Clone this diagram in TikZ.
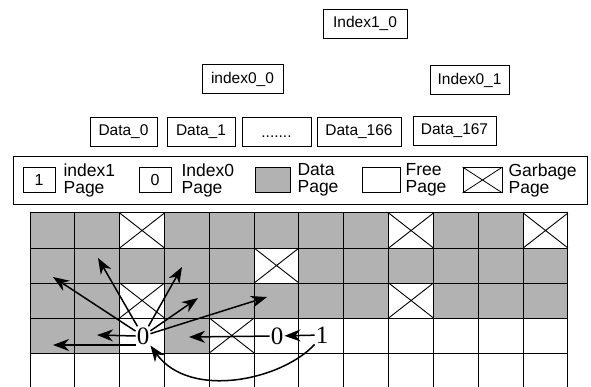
\documentclass[tikz,border=0pt]{standalone}
\usepackage{fontspec}
\setmainfont{Liberation Sans}
\newfontfamily\digitfont{Liberation Serif}
\usetikzlibrary{arrows.meta,positioning}
\definecolor{datagray}{gray}{0.70}

\begin{document}
\begin{tikzpicture}[x=1pt, y=-1pt,
    pagebox/.style={draw, line width=0.8pt, inner sep=0pt, minimum height=29pt,
        font=\fontsize{15.5}{15.5}\selectfont},
    swatch/.style={draw, line width=0.8pt, inner sep=0pt, minimum height=25pt,
        font=\fontsize{16}{16}\selectfont},
    legtext/.style={align=left, inner sep=0pt, anchor=west,
        font=\fontsize{17.5}{17}\selectfont},
    pagenum/.style={inner sep=1pt, font=\digitfont\fontsize{25}{25}\selectfont},
    ptr/.style={-{Stealth[length=16pt,width=12pt,inset=5pt]}, line width=1.5pt}]

    \useasboundingbox (0,0) rectangle (591,387);

    \def\cw{44.83}
    \def\rh{35}

    % --- arbol de indices ---
    \node[pagebox, minimum width=84pt] (i10) at (365,23.5) {Index1\_0};
    \node[pagebox, minimum width=81pt] (i00) at (242.5,79) {index0\_0};
    \node[pagebox, minimum width=79pt] (i01) at (469.5,80) {Index0\_1};

    \node[pagebox, minimum width=67pt] (d0)   at (123.5,132) {Data\_0};
    \node[pagebox, minimum width=68pt] (d1)   at (201,132)   {Data\_1};
    \node[pagebox, minimum width=69pt] (dots) at (276.5,132) {\vphantom{Data}.......};
    \node[pagebox, minimum width=84pt] (d166) at (359,132)   {Data\_166};
    \node[pagebox, minimum width=83pt] (d167) at (454.5,130.5) {Data\_167};

    % --- leyenda ---
    \draw[line width=1pt] (13,157) rectangle (587,205);

    \node[swatch, minimum width=32pt] (s1) at (39,180) {1};
    \node[legtext, right=8pt of s1] (t1) {index1\\Page};
    \node[swatch, minimum width=32pt] (s0) at (155,180) {0};
    \node[legtext, right=10pt of s0] (t0) {Index0\\Page};
    \node[swatch, minimum width=35pt, fill=datagray] (sd) at (272.5,180) {};
    \node[legtext, right=7pt of sd] (td) {Data\\Page};
    \node[swatch, minimum width=38pt] (sf) at (381,180) {};
    \node[legtext, right=5pt of sf] (tf) {Free\\Page};
    \node[swatch, minimum width=39pt] (sg) at (482.5,180) {};
    \draw[line width=0.8pt] (sg.north west) -- (sg.south east)
        (sg.south west) -- (sg.north east);
    \node[legtext, right=6pt of sg] (tg) {Garbage\\Page};

    % --- paginas: D = datos, X = basura, F = libre ---
    \foreach \pagerow [count=\rw from 0] in
        {{D,D,X,D,D,D,D,D,X,D,D,X},
         {D,D,D,D,D,X,D,D,D,D,D,D},
         {D,D,X,D,D,D,D,D,X,D,D,D},
         {D,D,F,D,X,F,F,F,F,F,F,F}} {
        \foreach \kind [count=\cl from 0] in \pagerow {
            \if\kind D
                \fill[datagray] ({30+\cl*\cw},{213+\rw*\rh}) rectangle ++(\cw,\rh);
            \fi
            \if\kind X
                \draw[line width=0.9pt] ({30+\cl*\cw},{213+\rw*\rh})
                    -- ++(\cw,\rh) ++(-\cw,0) -- ++(\cw,-\rh);
            \fi
        }
    }

    % --- rejilla ---
    \foreach \i in {0,...,12}
        \draw[line width=1pt] ({30+\i*\cw},213) -- ({30+\i*\cw},387);
    \foreach \j in {0,...,4}
        \draw[line width=1pt] (30,{213+\j*\rh}) -- (568,{213+\j*\rh});

    % --- paginas de indice ---
    \node[pagenum] (z0) at (143,336) {0};
    \node[pagenum] (z1) at (277,336) {0};
    \node[pagenum] (n1) at (322,335) {1};

    % --- punteros ---
    \coordinate (p1) at (53,277);
    \coordinate (p2) at (98,258);
    \coordinate (p3) at (182,267);
    \coordinate (p4) at (198,298);
    \coordinate (p5) at (267,297);
    \coordinate (p6) at (97,335);
    \coordinate (p7) at (53,345);
    \coordinate (p8) at (189,337);

    \foreach \p in {p1,p2,p3,p4,p5}
        \draw[ptr] (z0) -- (\p);
    \draw[ptr] (z0.west) -- (p6);
    \draw[ptr] (z0.west |- p7) -- (p7);
    \draw[ptr] (z1) -- (p8);
    \draw[ptr] (n1) -- (z1);
    \draw[ptr] (n1.south west) .. controls (282,380) and (190,400) .. (z0.south east);

\end{tikzpicture}
\end{document}
